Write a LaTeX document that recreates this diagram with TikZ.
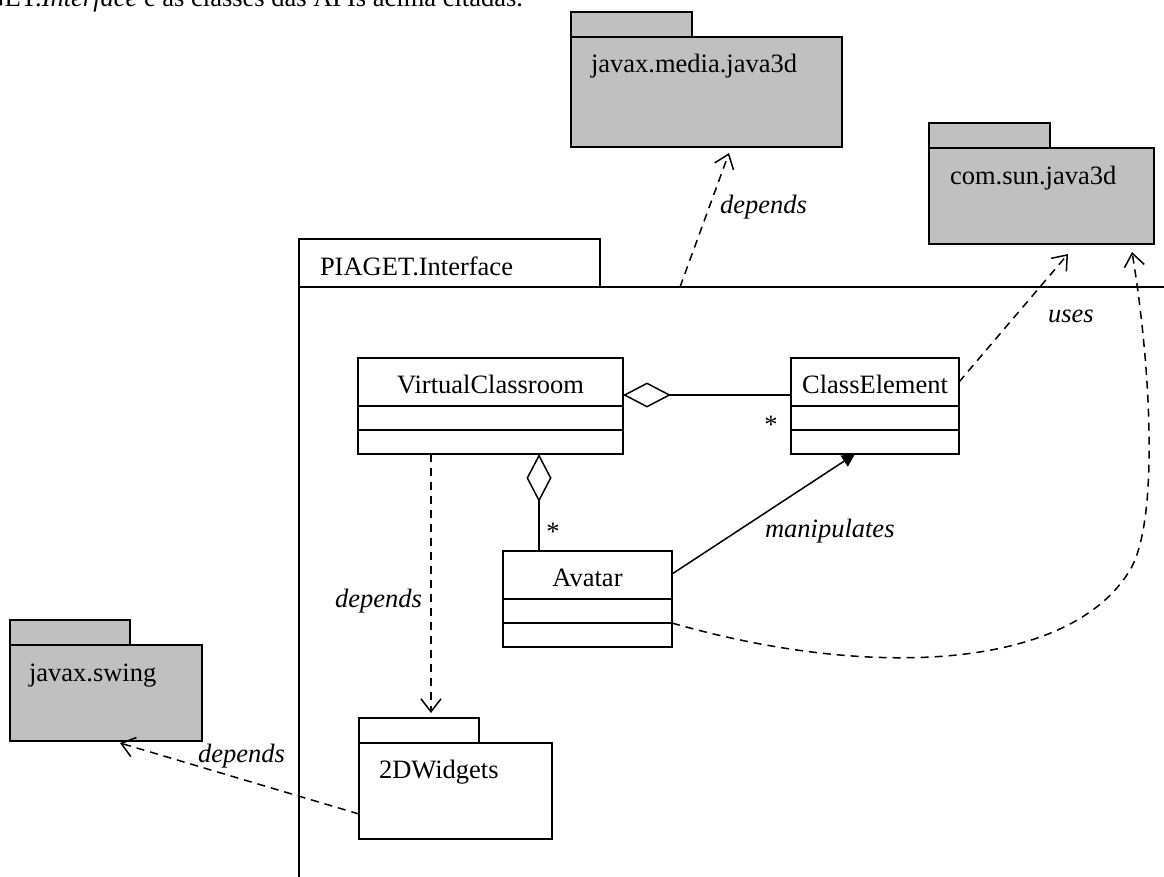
\documentclass[tikz,border=0pt]{standalone}
\usepackage{fontspec}
\setmainfont{Liberation Serif}
\usetikzlibrary{arrows.meta,calc}
\definecolor{pkggray}{HTML}{C0C0C0}
\begin{document}
\begin{tikzpicture}[x=1pt,y=-1pt,line width=1.5pt,
  txt/.style={font=\fontsize{26.5}{32}\selectfont,inner sep=0pt,outer sep=0pt},
  lbl/.style={font=\fontsize{26.5}{32}\selectfont\itshape,inner sep=0pt,outer sep=0pt},
  box/.style={draw,line width=1.5pt,inner sep=0pt,outer sep=0pt,anchor=north west,fill=white},
  ext/.style={box,fill=pkggray},
  dep/.style={dash pattern=on 8pt off 6pt,-{Straight Barb[length=13pt,width=20pt]}},
  agg/.style={{Diamond[open,length=48pt,width=25pt]}-},
  nav/.style={-{Triangle[length=13pt,width=13pt]}}]
\useasboundingbox (0,0) rectangle (1164,876);
\clip (0,0) rectangle (1164,876);

% running text of the page above the figure
\node[txt,anchor=base east] (cap) at (523,6)
  {PIAGET.\textit{Interface} e as classes das APIs acima citadas.};

% external packages
\node[ext,minimum width=121pt,minimum height=25pt] (jmtab) at (571,12) {};
\node[ext,minimum width=271pt,minimum height=110pt] (jm) at (571,37) {};
\node[txt,anchor=base west] (jmname) at (591,72) {javax.media.java3d};

\node[ext,minimum width=121pt,minimum height=25pt] (cstab) at (929,123) {};
\node[ext,minimum width=225pt,minimum height=96pt] (cs) at (929,148) {};
\node[txt,anchor=base west] (csname) at (950,184) {com.sun.java3d};

\node[ext,minimum width=120pt,minimum height=25pt] (swtab) at (10,620) {};
\node[ext,minimum width=192pt,minimum height=96pt] (sw) at (10,645) {};
\node[txt,anchor=base west] (swname) at (29,681) {javax.swing};

% PIAGET.Interface package frame
\node[box,minimum width=301pt,minimum height=48pt] (ptab) at (299,239) {};
\node[box,fill=none,minimum width=1000pt,minimum height=700pt] (piaget) at (299,287) {};
\node[txt,anchor=base west] (pname) at (320,275) {PIAGET.Interface};

% inner package
\node[box,minimum width=120pt,minimum height=25pt] (wtab) at (359,718) {};
\node[box,minimum width=193pt,minimum height=96pt] (w) at (359,743) {};
\node[txt,anchor=base west] (wname) at (379,778) {2DWidgets};

% classes
\node[box,minimum width=265pt,minimum height=96pt] (vc) at (358,358) {};
\node[txt,anchor=base] (vcname) at (490.5,393) {VirtualClassroom};
\draw ($(vc.north west)+(0,48)$) -- ($(vc.north east)+(0,48)$);
\draw ($(vc.north west)+(0,72)$) -- ($(vc.north east)+(0,72)$);

\node[box,minimum width=168pt,minimum height=96pt] (ce) at (791,358) {};
\node[txt,anchor=base] (cename) at (875,393) {ClassElement};
\draw ($(ce.north west)+(0,48)$) -- ($(ce.north east)+(0,48)$);
\draw ($(ce.north west)+(0,72)$) -- ($(ce.north east)+(0,72)$);

\node[box,minimum width=169pt,minimum height=96pt] (av) at (503,551) {};
\node[txt,anchor=base] (avname) at (587.5,586) {Avatar};
\draw ($(av.north west)+(0,48)$) -- ($(av.north east)+(0,48)$);
\draw ($(av.north west)+(0,72)$) -- ($(av.north east)+(0,72)$);

% associations
\draw[agg] ($(vc.north east)+(0,37)$) -- ($(ce.north west)+(0,37)$);
\node[txt,anchor=base] (m1) at (771,433) {*};
\draw[agg] ($(vc.south west)+(181,0)$) -- ($(av.north west)+(36,0)$);
\node[txt,anchor=base] (m2) at (553,540) {*};
\draw[nav] ($(av.north east)+(0,23)$) -- ($(ce.south west)+(64,0)$);
\node[lbl,anchor=base west] (lman) at (765,537) {manipulates};

% dependencies
\draw[dep] ($(piaget.north west)+(381,0)$) -- ($(jm.south west)+(158,6)$);
\node[lbl,anchor=base west] (ldep1) at (720,213) {depends};
\draw[dep] ($(ce.north east)+(0,24)$) -- ($(cs.south west)+(139,10)$);
\node[lbl,anchor=base west] (luses) at (1048,322) {uses};
\draw[dep] ($(av.north east)+(0,72)$) .. controls (870,680) and (1070,670) .. (1130,570)
  .. controls (1160,520) and (1150,360) .. ($(cs.south west)+(203,8)$);
\draw[dep] ($(vc.south west)+(73,0)$) -- ($(wtab.north west)+(72,-5)$);
\node[lbl,anchor=base east] (ldep2) at (422,607) {depends};
\draw[dep] ($(w.south west)+(0,-25)$) -- ($(sw.south west)+(110,2)$);
\node[lbl,anchor=base west] (ldep3) at (198,762) {depends};
\end{tikzpicture}
\end{document}
